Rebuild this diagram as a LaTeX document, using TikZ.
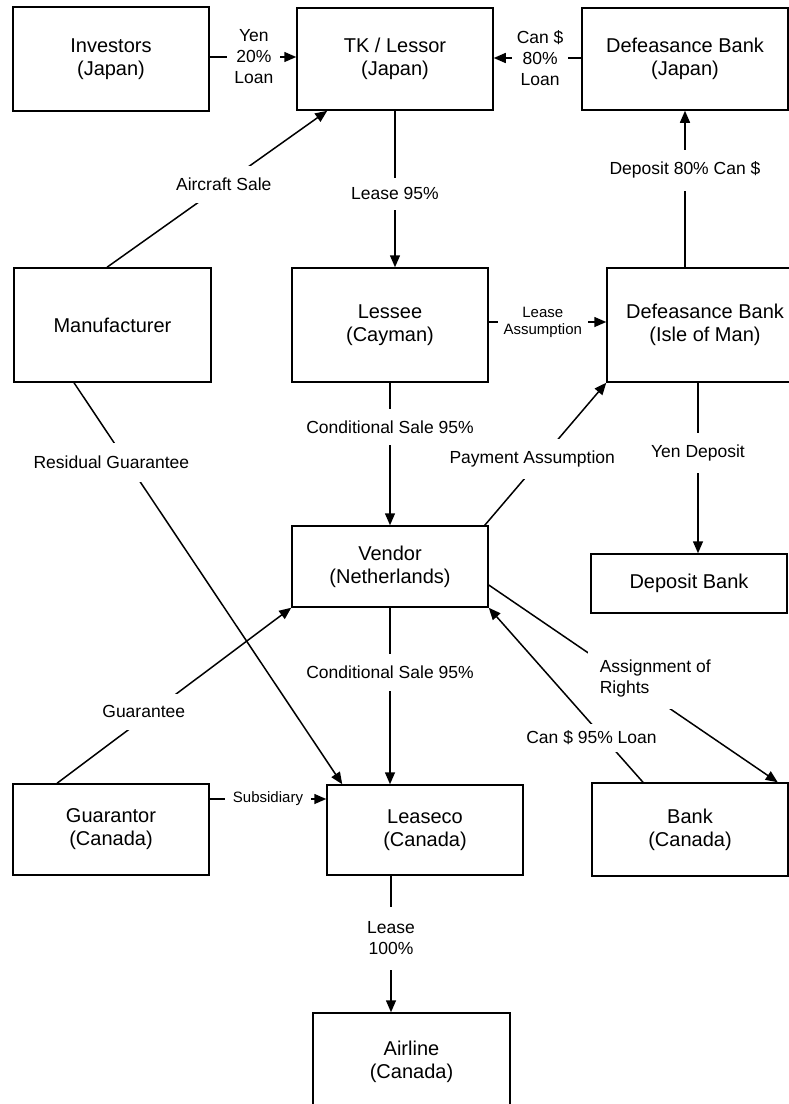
\documentclass[tikz,border=0pt]{standalone}
\usepackage{fontspec}
\setmainfont{Liberation Sans}
\usetikzlibrary{arrows.meta}
\begin{document}
\begin{tikzpicture}[x=1pt,y=-1pt,
  box/.style={draw, line width=1.5pt, inner sep=0pt, align=center, font=\fontsize{20}{23}\selectfont},
  conn/.style={line width=1.5pt},
  arr/.style={conn, -{Triangle[length=12pt,width=10pt]}},
  lbl/.style={fill=white, align=center, font=\fontsize{17.5}{21}\selectfont, inner xsep=3pt, inner ysep=12pt},
  slbl/.style={lbl, font=\fontsize{15}{17}\selectfont}]
\useasboundingbox (0,0) rectangle (789,1104);
\clip (0,0) rectangle (789,1104);
\fill[white] (0,0) rectangle (789,1104);

% boxes
\node[box, minimum width=196pt, minimum height=104pt] (inv) at (111,59) {Investors\\(Japan)};
\node[box, minimum width=196pt, minimum height=102pt] (tk)  at (395,59) {TK / Lessor\\(Japan)};
\node[box, minimum width=206pt, minimum height=102pt] (dbj) at (685,59) {Defeasance Bank\\(Japan)};
\node[box, minimum width=197pt, minimum height=114pt] (man) at (112.5,325) {Manufacturer};
\node[box, minimum width=196pt, minimum height=114pt] (les) at (390,325) {Lessee\\(Cayman)};
\node[box, minimum width=196pt, minimum height=114pt] (dbi) at (705,325) {Defeasance Bank\\(Isle of Man)};
\node[box, minimum width=196pt, minimum height=81pt]  (ven) at (390,566.5) {Vendor\\(Netherlands)};
\node[box, minimum width=196pt, minimum height=59pt]  (dep) at (689,583.5) {Deposit Bank};
\node[box, minimum width=196pt, minimum height=91pt]  (gua) at (111,829.5) {Guarantor\\(Canada)};
\node[box, minimum width=196pt, minimum height=90pt]  (lsc) at (425,830) {Leaseco\\(Canada)};
\node[box, minimum width=196pt, minimum height=93pt]  (bnk) at (690,829.5) {Bank\\(Canada)};
\node[box, minimum width=197pt, minimum height=98pt]  (air) at (411.5,1062) {Airline\\(Canada)};

% connectors
\draw[arr] ([yshift=2pt]inv.east) -- node[lbl,pos=0.51,inner xsep=7pt,inner ysep=1pt]{Yen\\20\%\\Loan} ([yshift=2pt]tk.west);
\draw[arr] ([yshift=1pt]dbj.west) -- node[lbl,pos=0.47,inner xsep=5pt,inner ysep=1pt]{Can \$\\80\%\\Loan} ([yshift=1pt]tk.east);
\draw[arr] ([xshift=-5.5pt]man.north) -- node[lbl,pos=0.53]{Aircraft Sale} ([xshift=31pt]tk.south west);
\draw[arr] (tk.south) -- node[lbl,pos=0.53,inner ysep=10pt]{Lease 95\%} (tk.south |- les.north);
\draw[arr] (dbj.south |- dbi.north) -- node[lbl,pos=0.62]{Deposit 80\% Can \$} (dbj.south);
\draw[arr] ([yshift=3pt]les.east) -- node[slbl,pos=0.46,inner xsep=6pt,inner ysep=1pt]{Lease\\Assumption} ([yshift=3pt]dbi.west);
\draw[arr] (les.south) -- node[lbl,pos=0.31]{Conditional Sale 95\%} (ven.north);
\draw[arr] ([xshift=-4pt]ven.north east) -- node[lbl,pos=0.465,xshift=-9pt]{Payment Assumption} (dbi.south west);
\draw[arr] ([xshift=-7pt]dbi.south) -- node[lbl,pos=0.41]{Yen Deposit} ([xshift=-7pt]dbi.south |- dep.north);
\draw[arr] ([yshift=-18.5pt]ven.east) -- node[lbl,pos=0.576,yshift=20pt,align=left,inner sep=12pt]{Assignment of\\Rights} ([xshift=-11pt]bnk.north east);
\draw[arr] ([xshift=-47pt]bnk.north) -- node[lbl,pos=0.256,xshift=-12pt,inner ysep=7pt]{Can \$ 95\% Loan} (ven.south east);
\draw[arr] ([xshift=-54pt]gua.north) -- node[lbl,pos=0.407,xshift=-8.6pt]{Guarantee} (ven.south west);
\draw[arr] (ven.south) -- node[lbl,pos=0.365]{Conditional Sale 95\%} (ven.south |- lsc.north);
\draw[arr] ([xshift=-38.5pt]man.south) -- node[lbl,pos=0.199,xshift=-16pt,inner ysep=13pt]{Residual Guarantee} ([xshift=16pt]lsc.north west);
\draw[arr] ([yshift=30.5pt]gua.east) -- node[slbl,pos=0.5,inner xsep=7.5pt,inner ysep=1pt]{Subsidiary} ([yshift=30.5pt]gua.east -| lsc.west);
\draw[arr] ([xshift=-34pt]lsc.south) -- node[lbl,pos=0.457,inner ysep=15pt]{Lease\\100\%} ([xshift=-34pt]lsc.south |- air.north);
\end{tikzpicture}
\end{document}
